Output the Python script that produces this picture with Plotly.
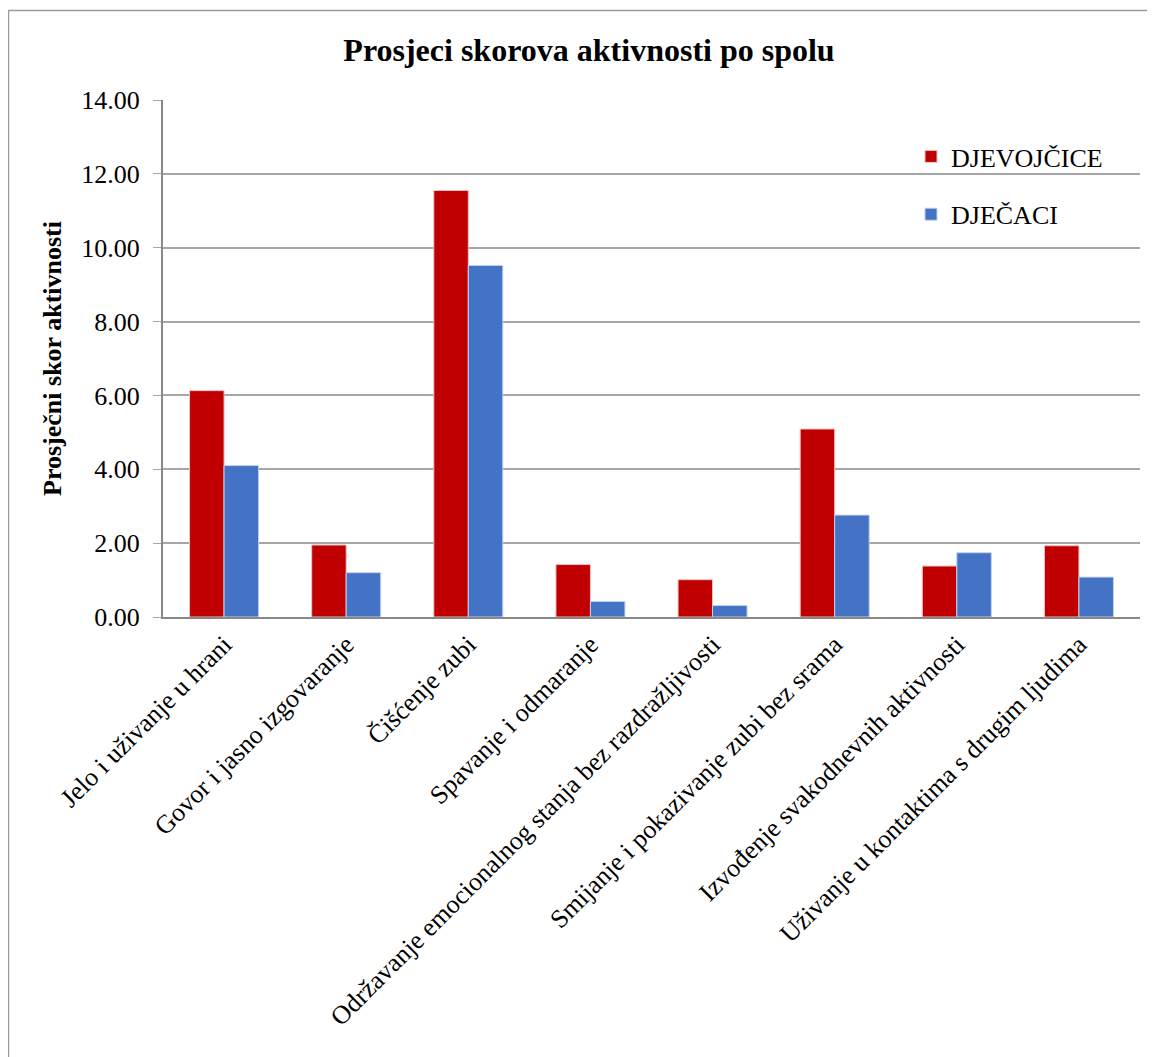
import plotly.graph_objects as go

categories = [
    "Jelo i uživanje u hrani",
    "Govor i jasno izgovaranje",
    "Čišćenje zubi",
    "Spavanje i odmaranje",
    "Održavanje emocionalnog stanja bez razdražljivosti",
    "Smijanje i pokazivanje zubi bez srama",
    "Izvođenje svakodnevnih aktivnosti",
    "Uživanje u kontaktima s drugim ljudima",
]
djevojcice = [6.13, 1.95, 11.55, 1.42, 1.01, 5.09, 1.38, 1.93]
djecaci = [4.10, 1.20, 9.52, 0.42, 0.31, 2.76, 1.74, 1.08]
y_ticks = [0, 2, 4, 6, 8, 10, 12, 14]
y_tick_labels = ["0.00", "2.00", "4.00", "6.00", "8.00", "10.00", "12.00", "14.00"]

W, H = 1155, 1057
OX, OY = 8, 8  # page offset of the figure in the screenshot
# plot area in screenshot pixels
PX0, PX1, PY0, PY1 = 163, 1140, 100, 617
L = PX0 - OX
T = PY0 - OY
R = W - (PX1 - OX)
B = H - (PY1 - OY)
pw = W - L - R
ph = H - T - B

font_family = "Liberation Serif, Times New Roman, serif"


def px_x(px):
    return (px - OX - L) / pw


def px_y(py):
    return (PY1 - py) / ph


fig = go.Figure()
fig.add_trace(go.Bar(
    x=categories, y=djevojcice, name="DJEVOJČICE",
    marker=dict(color="#C00000", line=dict(color="#f0c0c0", width=1)),
    legendgroup="a",
))
fig.add_trace(go.Bar(
    x=categories, y=djecaci, name="DJEČACI",
    marker=dict(color="#4472C4", line=dict(color="#c0d0f0", width=1)),
    legendgroup="b",
))

fig.update_layout(
    width=W, height=H,
    margin=dict(l=L, r=R, t=T, b=B, autoexpand=False),
    paper_bgcolor="white", plot_bgcolor="white",
    font=dict(family=font_family, color="black", size=26),
    barmode="group", bargap=0.435, bargroupgap=0,
    title=dict(
        text="<b>Prosjeci skorova aktivnosti po spolu</b>",
        x=px_x(589), xref="paper", xanchor="center",
        y=1 - (50 - OY) / H, yref="container", yanchor="middle",
        font=dict(family=font_family, size=32, color="black"),
    ),
    showlegend=True,
    legend=dict(
        x=px_x(911), y=px_y(133), xanchor="left", yanchor="top",
        font=dict(family=font_family, size=26, color="black"),
        bgcolor="rgba(0,0,0,0)",
        traceorder="grouped", tracegroupgap=21,
        itemwidth=30,
    ),
    xaxis=dict(
        tickangle=-45, showgrid=False, showline=True,
        linecolor="#888888", linewidth=2, ticks="",
        tickfont=dict(family=font_family, size=26, color="black"),
        fixedrange=True,
    ),
    yaxis=dict(
        range=[0, 14], tickvals=y_ticks, ticktext=y_tick_labels,
        showgrid=True, gridcolor="#a6a6a6", gridwidth=1.5,
        showline=True, linecolor="#888888", linewidth=2,
        ticks="outside", ticklen=8, tickcolor="#a6a6a6",
        ticklabelstandoff=8,
        tickfont=dict(family=font_family, size=26, color="black"),
        title=dict(text="<b>Prosječni skor aktivnosti</b>",
                   font=dict(family=font_family, size=26, color="black"),
                   standoff=12),
        zeroline=False, fixedrange=True,
    ),
    shapes=[dict(
        type="rect", xref="paper", yref="paper",
        x0=px_x(8.5), x1=px_x(1400), y0=px_y(10.5), y1=px_y(1400),
        line=dict(color="#9a9a9a", width=1.5), fillcolor="rgba(0,0,0,0)",
        layer="below",
    )],
)

fig.write_html("out.html")
